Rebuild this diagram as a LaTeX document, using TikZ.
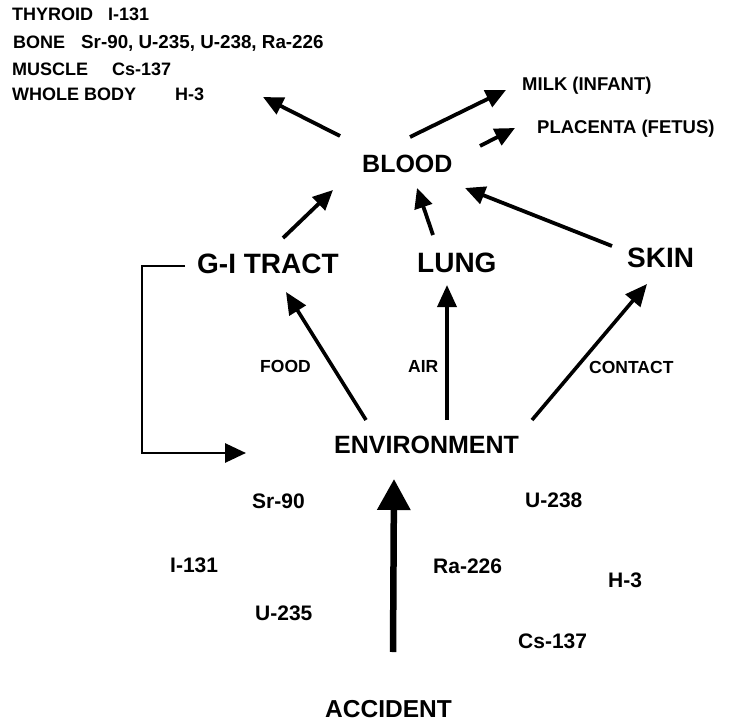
\documentclass[tikz,border=0pt]{standalone}
\usepackage{fontspec}
\setmainfont{Liberation Sans}
\usetikzlibrary{arrows.meta}
\tikzset{
	txt/.style={inner sep=0pt, anchor=base west, font=\fontsize{#1}{#1}\selectfont\bfseries},
	flow/.style={line width=3.8pt, -{Triangle[length=20pt,width=18pt]}},
	route/.style={line width=3.6pt, -{Triangle[length=22pt,width=19pt]}},
	loopback/.style={line width=2.8pt, -{Triangle[length=21pt,width=19pt]}},
	release/.style={line width=6.5pt, -{Triangle[length=31pt,width=32pt]}}
}
\begin{document}
\begin{tikzpicture}[x=1pt,y=-1pt]
	\fill[white] (0,0) rectangle (730,722);
	\useasboundingbox (0,0) rectangle (730,722);
	\node[txt=18] (thyroid) at (12,21) {THYROID};
	\node[txt=18] (thyroidiso) at (108,21) {I-131};
	\node[txt=18] (bone) at (13,49) {BONE};
	\node[txt=18.8] (boneiso) at (81,49) {Sr-90, U-235, U-238, Ra-226};
	\node[txt=18] (muscle) at (12,76) {MUSCLE};
	\node[txt=18] (muscleiso) at (112,76) {Cs-137};
	\node[txt=18] (whole) at (12,101) {WHOLE BODY};
	\node[txt=18] (wholeiso) at (175,101) {H-3};
	\node[txt=18.5] (milk) at (522,91) {MILK\hspace{5pt}(INFANT)};
	\node[txt=18.5] (placenta) at (537,134) {PLACENTA\hspace{5pt}(FETUS)};
	\node[txt=25] (blood) at (362,173) {BLOOD};
	\node[txt=28] (gi) at (197,273) {G-I TRACT};
	\node[txt=28] (lung) at (417,272) {LUNG};
	\node[txt=28] (skin) at (627,267) {SKIN};
	\node[txt=17.5] (food) at (260,372) {FOOD};
	\node[txt=17.5] (air) at (408,372) {AIR};
	\node[txt=17.5] (contact) at (589,373) {CONTACT};
	\node[txt=25] (env) at (334,453) {ENVIRONMENT};
	\node[txt=21] (sr) at (252,508) {Sr-90};
	\node[txt=21] (uh) at (525,507) {U-238};
	\node[txt=21] (iod) at (170,572) {I-131};
	\node[txt=21] (ra) at (433,573) {Ra-226};
	\node[txt=21] (tri) at (608,587) {H-3};
	\node[txt=21] (ul) at (255,620) {U-235};
	\node[txt=21] (cs) at (518,648) {Cs-137};
	\node[txt=24.5] (accident) at (325,717) {ACCIDENT};

	\draw[flow] ([shift={(-22,-37)}]blood.base west) -- ([shift={(88,-4)}]wholeiso.base west);
	\draw[flow] ([shift={(48,-36)}]blood.base west) -- ([shift={(-16,-1)}]milk.base west);
	\draw[flow] ([shift={(118,-27)}]blood.base west) -- ([shift={(-22,-6)}]placenta.base west);
	\draw[flow] ([shift={(86,-35)}]gi.base west) -- ([shift={(-29,17)}]blood.base west);
	\draw[flow] ([shift={(16,-37)}]lung.base west) -- ([shift={(55,15)}]blood.base west);
	\draw[flow] ([shift={(-15,-21)}]skin.base west) -- ([shift={(103,15)}]blood.base west);
	\draw[route] ([shift={(32,-33)}]env.base west) -- ([shift={(89,19)}]gi.base west);
	\draw[route] ([shift={(113,-33)}]env.base west) -- ([shift={(30,13)}]lung.base west);
	\draw[route] ([shift={(198,-33)}]env.base west) -- ([shift={(20,17)}]skin.base west);
	\draw[loopback] ([shift={(-12,-7)}]gi.base west) -- ++(-43,0) |- ([shift={(-88,0)}]env.base west);
	\draw[release] ([shift={(68,-65)}]accident.base west) -- ([shift={(60,26)}]env.base west);
\end{tikzpicture}
\end{document}
